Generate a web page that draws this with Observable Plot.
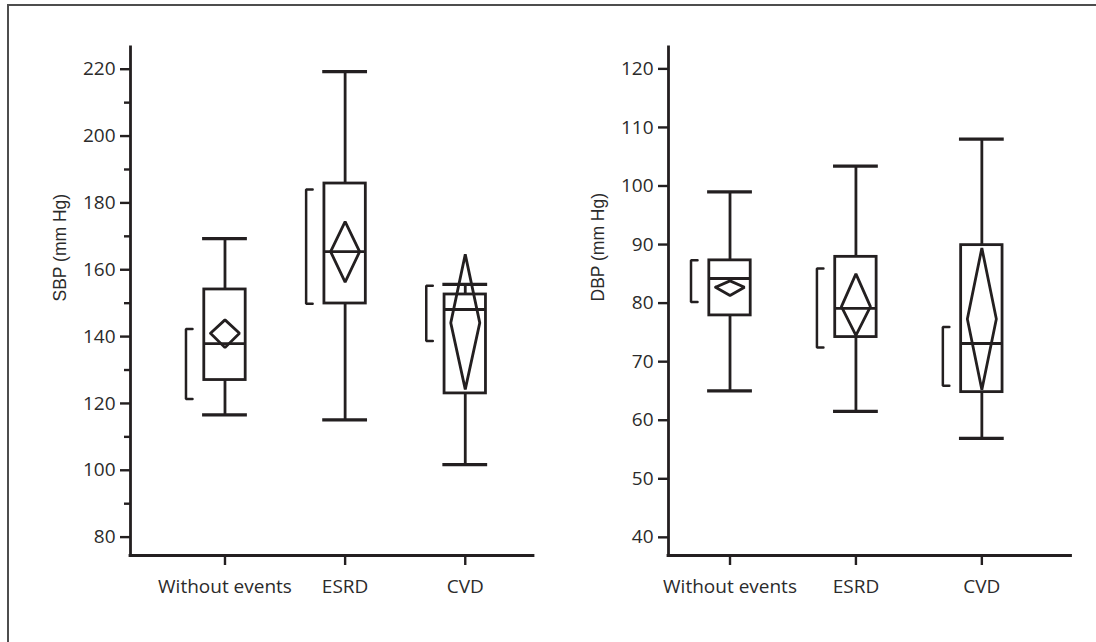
<!DOCTYPE html>
<html>
<head>
<meta charset="utf-8">
<script src="https://cdn.jsdelivr.net/npm/d3@7"></script>
<script src="https://cdn.jsdelivr.net/npm/@observablehq/plot@0.6"></script>
<style>
  html, body { margin: 0; padding: 0; background: #fff; }
  #wrap { position: relative; width: 1096px; height: 642px; overflow: hidden; background: #fff; }
  #border { position: absolute; left: 7px; top: 4px; width: 1200px; height: 800px;
            border-top: 2px solid #4d4d4d; border-left: 2px solid #4d4d4d; }
  .panel { position: absolute; top: 0; }
</style>
</head>
<body>
<div id="wrap">
  <div id="border"></div>
  <div class="panel" id="left" style="left:0px"></div>
  <div class="panel" id="right" style="left:538px"></div>
</div>
<script>
// ---- data ----
const categories = ["Without events", "ESRD", "CVD"];

// SBP (mm Hg)
const sbpWhiskerLow  = [116.6, 115.1, 101.7];
const sbpQ1          = [127.0, 149.9, 123.0];
const sbpMedian      = [137.9, 165.4, 148.1];
const sbpQ3          = [154.1, 185.8, 152.6];
const sbpWhiskerHigh = [169.3, 219.3, 155.6];
const sbpMean        = [141.0, 165.4, 144.1];
const sbpMeanLow     = [136.7, 156.3, 124.2];
const sbpMeanHigh    = [145.0, 174.4, 164.6];
const sbpShortLow    = [121.3, 149.8, 138.7];
const sbpShortHigh   = [142.3, 184.0, 155.2];
const sbpMajorTicks  = [80, 100, 120, 140, 160, 180, 200, 220];
const sbpMinorTicks  = [90, 110, 130, 150, 170, 190, 210];

// DBP (mm Hg)
const dbpWhiskerLow  = [65.0, 61.5, 56.9];
const dbpQ1          = [77.9, 74.2, 64.8];
const dbpMedian      = [84.2, 79.1, 73.1];
const dbpQ3          = [87.3, 87.9, 89.9];
const dbpWhiskerHigh = [99.0, 103.4, 108.0];
const dbpMean        = [82.7, 79.4, 77.3];
const dbpMeanLow     = [81.3, 74.5, 65.2];
const dbpMeanHigh    = [83.8, 85.0, 89.4];
const dbpShortLow    = [80.2, 72.4, 65.9];
const dbpShortHigh   = [87.3, 85.9, 75.9];
const dbpMajorTicks  = [40, 50, 60, 70, 80, 90, 100, 110, 120];
const dbpMinorTicks  = [];

// ---- chart builder ----
const INK = "#231f20";
const SW = 2.8;

function makeRows(wl, q1, med, q3, wh, mean, ml, mh, sl, sh) {
  return categories.map((c, k) => ({
    cat: c, i: k + 1,
    wl: wl[k], q1: q1[k], med: med[k], q3: q3[k], wh: wh[k],
    mean: mean[k], ml: ml[k], mh: mh[k], sl: sl[k], sh: sh[k]
  }));
}

function panel({rows, yLabel, yDomain, xDomain, majorTicks, minorTicks, marginRight}) {
  const W = 548, H = 642, mL = 130, mT = 47, mB = 87;
  const pxPerUnit = (W - mL - marginRight) / (xDomain[1] - xDomain[0]);
  const u = px => px / pxPerUnit; // pixel size -> x units
  const boxHW = u(20.7), capHW = u(22.4), diaHW = u(14.5), brOff = u(39), brTick = u(6.5);

  const diamond = rows.flatMap(d => [
    {cat: d.cat, x: d.i - diaHW, y: d.mean},
    {cat: d.cat, x: d.i, y: d.mh},
    {cat: d.cat, x: d.i + diaHW, y: d.mean},
    {cat: d.cat, x: d.i, y: d.ml},
    {cat: d.cat, x: d.i - diaHW, y: d.mean}
  ]);
  const bracket = rows.flatMap(d => [
    {cat: d.cat, x: d.i - brOff + brTick, y: d.sh},
    {cat: d.cat, x: d.i - brOff, y: d.sh},
    {cat: d.cat, x: d.i - brOff, y: d.sl},
    {cat: d.cat, x: d.i - brOff + brTick, y: d.sl}
  ]);

  return Plot.plot({
    width: W, height: H,
    marginLeft: mL, marginRight: marginRight, marginTop: mT, marginBottom: mB,
    style: {fontFamily: "'Open Sans', sans-serif", fontSize: "19px", color: "#2b2b2b", background: "transparent", overflow: "visible"},
    x: {domain: xDomain, axis: null},
    y: {domain: yDomain, axis: null},
    marks: [
      // axis lines
      Plot.ruleX([xDomain[0]], {stroke: INK, strokeWidth: SW, strokeLinecap: "square"}),
      Plot.ruleY([yDomain[0]], {stroke: INK, strokeWidth: SW, strokeLinecap: "square"}),
      // y axis
      Plot.axisY({ticks: majorTicks, tickSize: 10, tickPadding: 5, strokeWidth: 2.4, stroke: INK, label: null, fill: "#2b2b2b"}),
      ...(minorTicks.length ? [Plot.axisY({ticks: minorTicks, tickSize: 6, tickFormat: () => "", strokeWidth: 2.4, stroke: INK, label: null})] : []),
      // x axis
      Plot.axisX({ticks: [1, 2, 3], tickSize: 10, tickPadding: 14, strokeWidth: 2.4, stroke: INK,
                  tickFormat: v => categories[v - 1], label: null, fill: "#2b2b2b"}),
      // y title
      Plot.text([yLabel], {frameAnchor: "left", rotate: -90, dx: -70, fontSize: 17.5,
                           fontFamily: "'Liberation Sans', Arial, sans-serif", fill: "#2b2b2b"}),
      // whiskers
      Plot.ruleX(rows, {x: "i", y1: "q3", y2: "wh", stroke: INK, strokeWidth: SW}),
      Plot.ruleX(rows, {x: "i", y1: "wl", y2: "q1", stroke: INK, strokeWidth: SW}),
      Plot.ruleY(rows, {y: "wh", x1: d => d.i - capHW, x2: d => d.i + capHW, stroke: INK, strokeWidth: SW + 0.4}),
      Plot.ruleY(rows, {y: "wl", x1: d => d.i - capHW, x2: d => d.i + capHW, stroke: INK, strokeWidth: SW + 0.4}),
      // box
      Plot.rect(rows, {x1: d => d.i - boxHW, x2: d => d.i + boxHW, y1: "q1", y2: "q3",
                       fill: "none", stroke: INK, strokeWidth: SW}),
      Plot.ruleY(rows, {y: "med", x1: d => d.i - boxHW, x2: d => d.i + boxHW, stroke: INK, strokeWidth: SW}),
      // mean diamond
      Plot.line(diamond, {x: "x", y: "y", z: "cat", stroke: INK, strokeWidth: SW, strokeLinejoin: "miter"}),
      // shortest-half bracket
      Plot.line(bracket, {x: "x", y: "y", z: "cat", stroke: INK, strokeWidth: SW - 0.3, strokeLinejoin: "miter"})
    ]
  });
}

const sbpRows = makeRows(sbpWhiskerLow, sbpQ1, sbpMedian, sbpQ3, sbpWhiskerHigh, sbpMean, sbpMeanLow, sbpMeanHigh, sbpShortLow, sbpShortHigh);
const dbpRows = makeRows(dbpWhiskerLow, dbpQ1, dbpMedian, dbpQ3, dbpWhiskerHigh, dbpMean, dbpMeanLow, dbpMeanHigh, dbpShortLow, dbpShortHigh);

document.getElementById("left").appendChild(panel({
  rows: sbpRows, yLabel: "SBP (mm Hg)", yDomain: [74.5, 226.5], xDomain: [0.2135, 3.568],
  majorTicks: sbpMajorTicks, minorTicks: sbpMinorTicks, marginRight: 15
}));
document.getElementById("right").appendChild(panel({
  rows: dbpRows, yLabel: "DBP (mm Hg)", yDomain: [36.9, 123.65], xDomain: [0.5115, 3.708],
  majorTicks: dbpMajorTicks, minorTicks: dbpMinorTicks, marginRight: 15.5
}));
</script>
</body>
</html>
